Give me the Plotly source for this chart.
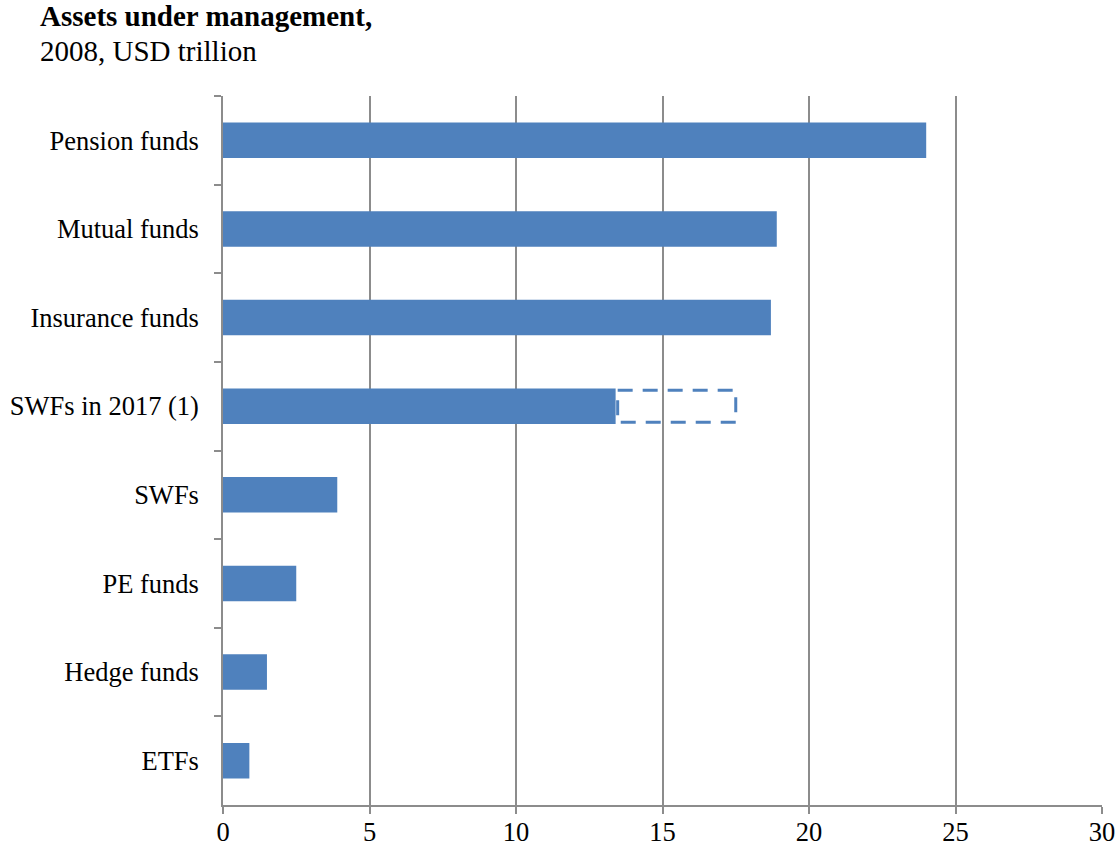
import plotly.graph_objects as go

categories = ["Pension funds", "Mutual funds", "Insurance funds", "SWFs in 2017 (1)",
              "SWFs", "PE funds", "Hedge funds", "ETFs"]
values = [24.0, 18.9, 18.7, 13.4, 3.9, 2.5, 1.5, 0.9]
swf2017_category = "SWFs in 2017 (1)"
swf2017_high = 17.5
x_ticks = [0, 5, 10, 15, 20, 25, 30]

BAR = "#4F81BD"
GRID = "#8C8C8C"
FONT = "Liberation Serif"
BAR_WIDTH = 0.4

W, H = 1120, 852
L, T, R, B = 223, 96, 18, 47
PW, PH = W - L - R, H - T - B

def px_y(win_y):
    return 1 + (T - win_y) / PH

fig = go.Figure()
fig.add_trace(go.Bar(
    y=categories, x=values, orientation="h",
    marker=dict(color=BAR, line=dict(width=0)),
    width=BAR_WIDTH, hoverinfo="x+y",
))

idx = categories.index(swf2017_category)
low = values[idx]
fig.add_shape(
    type="rect", xref="x", yref="y",
    x0=low + 0.07, x1=swf2017_high,
    y0=idx - BAR_WIDTH / 2 + 0.02, y1=idx + BAR_WIDTH / 2 - 0.02,
    line=dict(color=BAR, width=3, dash="15px,10px"),
    fillcolor="rgba(0,0,0,0)", layer="above",
)

fig.add_annotation(text="<b>Assets under management,</b>", xref="paper", yref="paper",
                   x=(38 - L) / PW, y=px_y(16), xanchor="left", yanchor="middle",
                   showarrow=False, font=dict(family=FONT, size=29, color="black"))
fig.add_annotation(text="2008, USD trillion", xref="paper", yref="paper",
                   x=(38 - L) / PW, y=px_y(51), xanchor="left", yanchor="middle",
                   showarrow=False, font=dict(family=FONT, size=29, color="black"))

fig.update_layout(
    width=W, height=H,
    margin=dict(l=L, r=R, t=T, b=B),
    plot_bgcolor="white", paper_bgcolor="white",
    showlegend=False,
    font=dict(family=FONT, size=26.5, color="black"),
    xaxis=dict(
        range=[0, 30], tickvals=x_ticks, showgrid=True, gridcolor=GRID, gridwidth=1.5,
        zeroline=False, showline=True, linecolor=GRID, linewidth=1.5,
        ticks="outside", ticklen=7, tickcolor=GRID, tickwidth=1.5,
        ticklabelstandoff=-5, automargin=False,
        tickfont=dict(family=FONT, size=26.5, color="black"), mirror=False,
        fixedrange=True,
    ),
    yaxis=dict(
        type="category", categoryorder="array", categoryarray=categories,
        autorange="reversed", showgrid=False, zeroline=False,
        showline=True, linecolor=GRID, linewidth=1.5,
        ticks="outside", ticklen=7, tickcolor=GRID, tickwidth=1.5,
        tickson="boundaries", ticklabelstandoff=17, automargin=False,
        tickfont=dict(family=FONT, size=26.5, color="black"),
        fixedrange=True,
    ),
)

fig.write_html(
    "out.html",
    config={"displayModeBar": False},
    post_script="document.body.style.margin='0';document.body.style.overflow='hidden';",
)
